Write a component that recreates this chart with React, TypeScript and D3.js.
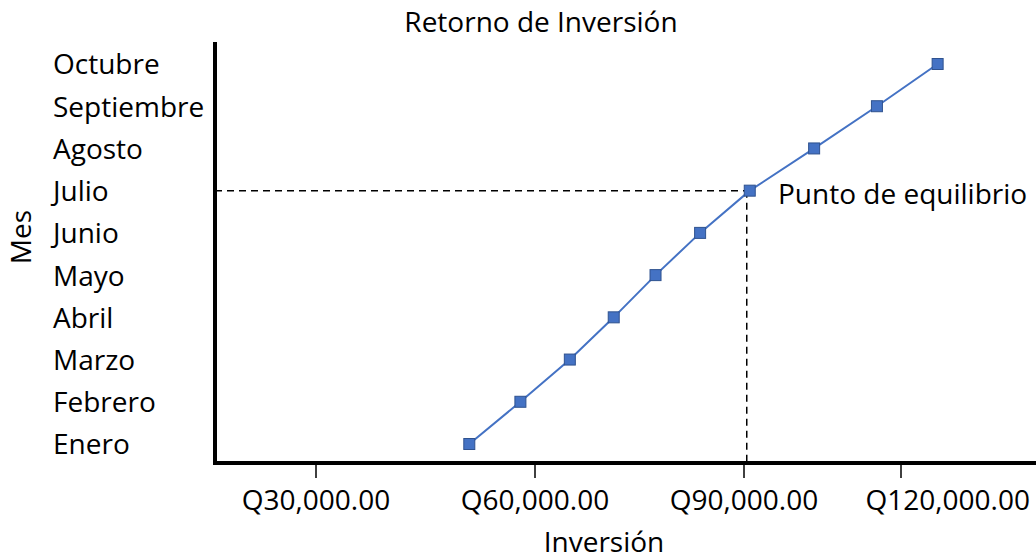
import * as d3 from 'd3';
import { useMemo } from 'react';

const months = [
  'Enero',
  'Febrero',
  'Marzo',
  'Abril',
  'Mayo',
  'Junio',
  'Julio',
  'Agosto',
  'Septiembre',
  'Octubre',
];
const inversion = [51000, 58000, 65000, 71300, 77300, 83700, 91100, 103400, 115400, 127000];
const xTicks = [30000, 60000, 90000, 120000];
const equilibrio = 'Julio';

const WIDTH = 1036;
const HEIGHT = 559;
const FONT = '"Open Sans", sans-serif';

export default function App() {
  const axisX = 215;
  const axisY = 463;

  // the value axis in the source is not evenly spaced, so map each tick to its spot
  const xScale = useMemo(
    () => d3.scaleLinear().domain(xTicks).range([316, 535, 744, 901]),
    []
  );

  const yScale = useMemo(
    () => d3.scalePoint<string>().domain(months).range([444, 64]),
    []
  );

  const points = months.map((m, i) => ({ m, v: inversion[i] }));

  const linePath = useMemo(() => {
    const gen = d3
      .line<{ m: string; v: number }>()
      .x((d) => xScale(d.v))
      .y((d) => yScale(d.m) as number);
    return gen(points);
  }, []);

  const eqIdx = months.indexOf(equilibrio);
  const eqX = xScale(inversion[eqIdx]);
  const eqY = yScale(equilibrio) as number;
  const fmt = (v: number) => 'Q' + d3.format(',.2f')(v);

  return (
    <svg
      width={WIDTH}
      height={HEIGHT}
      style={{ position: 'absolute', left: 0, top: 0, background: '#fff' }}
      fontFamily={FONT}
    >
      <text x={541} y={25} textAnchor='middle' dominantBaseline='middle' fontSize={28}>
        Retorno de Inversión
      </text>

      {/* category labels */}
      {months.map((m) => (
        <text
          key={m}
          x={53}
          y={(yScale(m) as number) + 3}
          dominantBaseline='middle'
          fontSize={28}
          fill='#000'
        >
          {m}
        </text>
      ))}
      <text
        transform={`translate(24,237) rotate(-90)`}
        textAnchor='middle'
        dominantBaseline='middle'
        fontSize={28}
      >
        Mes
      </text>

      {/* dashed guides to break-even */}
      <line
        x1={axisX}
        x2={eqX}
        y1={eqY}
        y2={eqY}
        stroke='#000'
        strokeWidth={1.5}
        strokeDasharray='7,5'
      />
      <line
        x1={eqX - 3}
        x2={eqX - 3}
        y1={eqY}
        y2={axisY}
        stroke='#000'
        strokeWidth={1.5}
        strokeDasharray='7,5'
      />

      <path d={linePath ?? 'M0 0'} fill='none' stroke='#4472C4' strokeWidth={2} />
      {points.map((d) => (
        <rect
          key={d.m}
          x={xScale(d.v) - 5.5}
          y={(yScale(d.m) as number) - 5.5}
          width={11}
          height={11}
          fill='#4472C4'
          stroke='#2F528F'
          strokeWidth={1}
        />
      ))}

      <text x={778} y={eqY + 6} dominantBaseline='middle' fontSize={28}>
        Punto de equilibrio
      </text>

      {/* axes */}
      {xTicks.map((t, i) => (
        <g key={t}>
          <line x1={xScale(t)} x2={xScale(t)} y1={axisY} y2={478} stroke='#000' strokeWidth={1.5} />
          <text
            x={i === xTicks.length - 1 ? WIDTH - 6 : xScale(t)}
            y={503}
            textAnchor={i === xTicks.length - 1 ? 'end' : 'middle'}
            dominantBaseline='middle'
            fontSize={28}
          >
            {fmt(t)}
          </text>
        </g>
      ))}
      <line x1={axisX} x2={axisX} y1={42} y2={axisY + 2} stroke='#000' strokeWidth={4} />
      <line x1={axisX - 2} x2={WIDTH} y1={axisY} y2={axisY} stroke='#000' strokeWidth={4} />

      <text x={604} y={545} textAnchor='middle' dominantBaseline='middle' fontSize={28}>
        Inversión
      </text>
    </svg>
  );
}
